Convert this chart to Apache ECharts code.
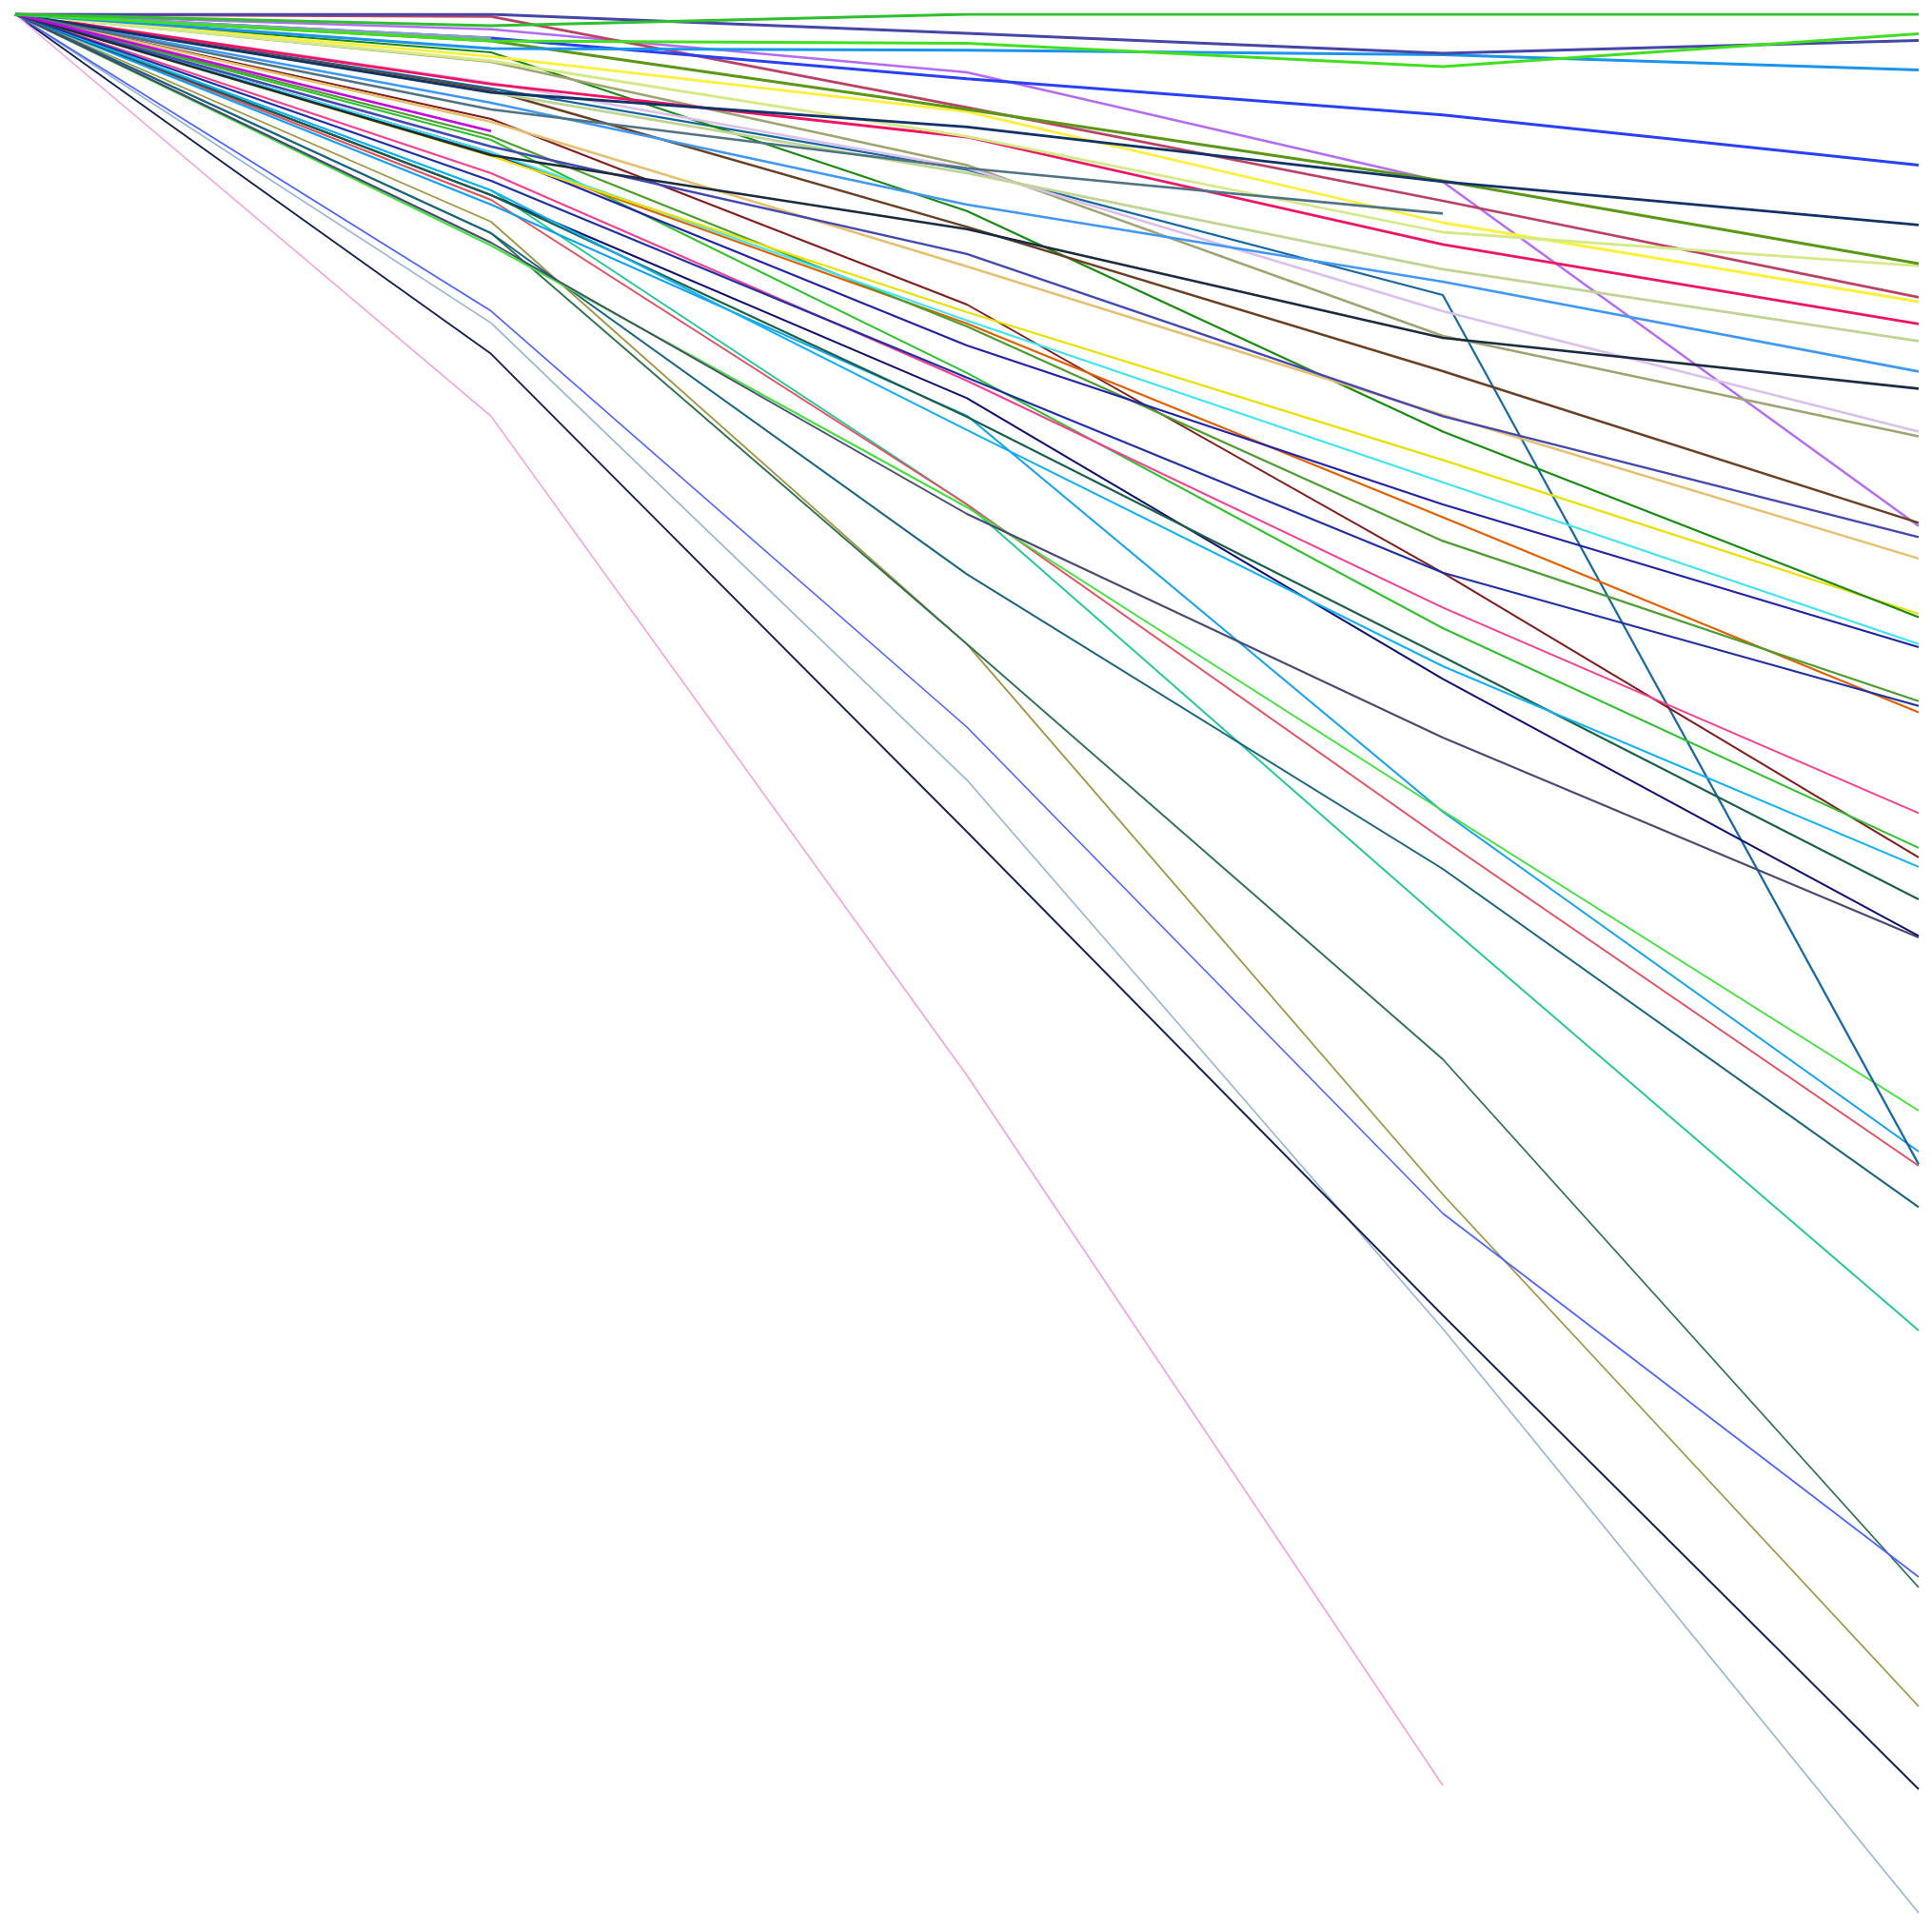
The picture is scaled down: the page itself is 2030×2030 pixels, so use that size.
<!DOCTYPE html>
<html>
<head>
<meta charset="utf-8">
<script src="https://cdn.jsdelivr.net/npm/echarts@6/dist/echarts.min.js"></script>
<style>
html,body{margin:0;padding:0;background:#fff;}
#chart{width:2030px;height:2030px;}
</style>
</head>
<body>
<div id="chart"></div>
<script>
// Categories (x positions)
const categories = ['1', '2', '3', '4', '5'];

// Series values (0 at top, 100 at bottom)
const vGreen        = [0, 0.6, 0, 0, 0];
const vLime         = [0, 1.4, 1.52, 2.75, 1.02];
const vIndigo       = [0, 0, 1.0, 2.05, 1.37];
const vAzure        = [0, 1.8, 1.89, 2.12, 2.92];
const vBlue         = [0, 1.25, 3.39, 5.29, 7.92];
const vNavy         = [0, 4.1, 5.92, 8.79, 11.07];
const vOliveGreen   = [0, 1.4, 5.0, 8.75, 13.1];
const vPaleLime     = [0, 2.45, 6.42, 11.45, 13.22];
const vCrimson      = [0, 0.12, 4.89, 9.8, 14.87];
const vYellow       = [0, 2.22, 5.12, 10.95, 15.1];
const vRose         = [0, 3.67, 6.45, 12.09, 16.27];
const vSage         = [0, 4.09, 8.34, 13.39, 17.17];
const vLightBlue    = [0, 4.65, 10.0, 14.05, 18.77];
const vDarkSlate    = [0, 7.4, 11.29, 17.0, 19.67];
const vLavender     = [0, 3.6, 8.09, 15.6, 21.92];
const vKhaki        = [0, 2.5, 7.92, 16.9, 22.17];
const vBrown        = [0, 4.0, 11.17, 18.75, 26.72];
const vViolet       = [0, 0.79, 3.05, 8.8, 26.89];
const vSlateBlue    = [0, 6.95, 12.59, 21.12, 27.47];
const vTan          = [0, 5.65, 13.25, 21.05, 28.59];
const vDarkGreen    = [0, 2.0, 10.34, 21.92, 31.67];
const vGold         = [0, 7.45, 15.65, 23.42, 31.5];
const vCyan         = [0, 7.25, 16.09, 24.59, 33.09];
const vIndigoBlue   = [0, 7.25, 17.4, 25.75, 33.25];
const vMidGreen     = [0, 6.4, 16.4, 27.67, 36.09];
const vRoyal        = [0, 8.75, 19.09, 29.34, 36.34];
const vOrange       = [0, 7.34, 16.25, 26.42, 36.67];
const vHotPink      = [0, 8.35, 19.25, 31.17, 41.97];
const vGrass        = [0, 6.6, 18.84, 32.25, 43.79];
const vMaroon       = [0, 5.5, 15.25, 29.34, 44.29];
const vSky          = [0, 9.25, 21.84, 34.25, 44.79];
const vPine         = [0, 9.5, 21.15, 33.75, 46.5];
const vNavy2        = [0, 9.5, 20.17, 34.92, 48.42];
const vSlateGray    = [0, 12.0, 26.25, 38.0, 48.5];
const vSteelBlue    = [0, 3.89, 8.17, 14.75, 60.42];
const vNeon         = [0, 12.15, 25.9, 41.85, 57.6];
const vAzure2       = [0, 10.0, 21.09, 41.9, 59.75];
const vRed          = [0, 9.75, 25.75, 43.35, 60.5];
const vTeal         = [0, 11.5, 29.42, 44.9, 62.67];
const vMint         = [0, 9.25, 25.75, 47.65, 69.15];
const vCornflower   = [0, 15.59, 37.45, 63.0, 82.1];
const vForest       = [0, 11.5, 33.09, 54.9, 82.65];
const vOlive        = [0, 10.9, 33.09, 62.0, 88.9];
const vNavy3        = [0, 17.84, 42.95, 68.35, 93.25];
const vPowder       = [0, 16.22, 40.23, 69.05, 99.75];
const vPink         = [0, 21.12, 55.75, 93.05, null];
const vSteelGray    = [0, 5.0, 8.09, 10.47, null];
const vMagenta      = [0, 6.14, null, null, null];
const vLightSteel   = [0, 1.25, null, null, null];

const seriesDefs = [
  ['Powder', vPowder, '#94b4d4', 1.6],
  ['Navy3', vNavy3, '#122050', 1.8],
  ['Olive', vOlive, '#a09444', 1.8],
  ['Forest', vForest, '#2e7050', 1.8],
  ['Cornflower', vCornflower, '#4a62ff', 1.6],
  ['Pink', vPink, '#f4a0dc', 1.6],
  ['Mint', vMint, '#20c890', 1.8],
  ['Teal', vTeal, '#1a6480', 2],
  ['Red', vRed, '#e05060', 2],
  ['Azure2', vAzure2, '#10a0f0', 2],
  ['Neon', vNeon, '#44e040', 2],
  ['SteelBlue', vSteelBlue, '#1668a0', 2.2],
  ['SlateGray', vSlateGray, '#484870', 2],
  ['Navy2', vNavy2, '#10106e', 2],
  ['Pine', vPine, '#1a6048', 2],
  ['Sky', vSky, '#10b0f4', 2],
  ['Maroon', vMaroon, '#801e1e', 2],
  ['Grass', vGrass, '#30c030', 2],
  ['HotPink', vHotPink, '#f44090', 2],
  ['Orange', vOrange, '#e06000', 2.2],
  ['Royal', vRoyal, '#2030a4', 2.2],
  ['MidGreen', vMidGreen, '#4c9c30', 2.2],
  ['IndigoBlue', vIndigoBlue, '#2222a4', 2.2],
  ['Cyan', vCyan, '#40e4f0', 2.2],
  ['Gold', vGold, '#e8e000', 2.2],
  ['DarkGreen', vDarkGreen, '#188a10', 2.2],
  ['Tan', vTan, '#e4c070', 2.4],
  ['SlateBlue', vSlateBlue, '#4448b0', 2.4],
  ['Violet', vViolet, '#b46cf4', 2.4],
  ['Brown', vBrown, '#6a4024', 2.4],
  ['Khaki', vKhaki, '#a0a470', 2.6],
  ['Lavender', vLavender, '#dcc0ec', 2.6],
  ['DarkSlate', vDarkSlate, '#1c2c40', 2.6],
  ['LightBlue', vLightBlue, '#4098f4', 2.6],
  ['Sage', vSage, '#c0d494', 2.8],
  ['Rose', vRose, '#f01464', 2.8],
  ['Yellow', vYellow, '#fcf03c', 2.8],
  ['Crimson', vCrimson, '#ba4264', 2.8],
  ['PaleLime', vPaleLime, '#d4ea88', 2.8],
  ['OliveGreen', vOliveGreen, '#5c9818', 2.8],
  ['Navy', vNavy, '#123268', 2.8],
  ['SteelGray', vSteelGray, '#507484', 2.6],
  ['Magenta', vMagenta, '#c400e4', 2.6],
  ['Blue', vBlue, '#2a40f4', 3],
  ['LightSteel', vLightSteel, '#8aa0c0', 3],
  ['Azure', vAzure, '#1a94ec', 3],
  ['Indigo', vIndigo, '#4646a6', 3],
  ['Lime', vLime, '#40e020', 3],
  ['Green', vGreen, '#2ec02e', 3]
];

const chart = echarts.init(document.getElementById('chart'));
chart.setOption({
  animation: false,
  backgroundColor: '#ffffff',
  grid: { left: 16, right: 14, top: 15, bottom: 15, containLabel: false },
  xAxis: {
    type: 'category',
    data: categories,
    boundaryGap: false,
    show: false
  },
  yAxis: {
    type: 'value',
    min: 0,
    max: 100,
    inverse: true,
    show: false
  },
  series: seriesDefs.map(([name, data, color, width]) => ({
    name: name,
    type: 'line',
    data: data,
    symbol: 'none',
    connectNulls: false,
    lineStyle: { color: color, width: width },
    itemStyle: { color: color },
    emphasis: { disabled: true }
  }))
});
</script>
</body>
</html>
